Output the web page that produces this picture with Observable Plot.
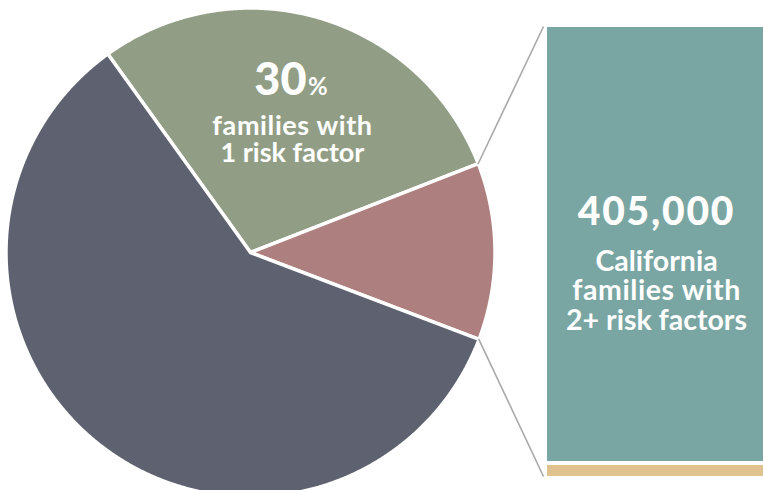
<!DOCTYPE html>
<html><head><meta charset="utf-8">
<script src="https://cdn.jsdelivr.net/npm/d3@7"></script>
<script src="https://cdn.jsdelivr.net/npm/@observablehq/plot@0.6"></script>
<style>html,body{margin:0;padding:0;background:#fff;} svg{display:block}</style>
</head><body><div id="chart"></div>
<script>
// ---- data ----
const categories = ["1 risk factor", "2+ risk factors", "No risk factors"];
const shares = [29.0, 11.7, 59.3];           // percent of families
const sliceColors = ["#919e85", "#ad7f7e", "#5e6170"];
const pctNumber = "30";
const pctSign = "%";
const sliceLines = ["families with", "1 risk factor"];
const calloutNumber = "405,000";
const calloutLines = ["California", "families with", "2+ risk factors"];

// ---- layout ----
const W = 763, H = 490;
const cx = 250, cy = 252, R = 244.5, startDeg = -35.7;
const box = {x1: 547, x2: 763, y1: 27, y2: 461};
const strip = {x1: 547, x2: 763, y1: 465, y2: 476};
const FONT = "Lato, 'Open Sans', sans-serif";

const total = d3.sum(shares);
const pt = (deg, r) => {
  const a = deg * Math.PI / 180;
  return {x: cx + r * Math.sin(a), y: cy - r * Math.cos(a)};
};

// slice polygons
const slices = [];
let acc = startDeg;
const bounds = [];
categories.forEach((c, i) => {
  const a0 = acc, a1 = acc + shares[i] / total * 360;
  bounds.push([a0, a1]);
  const pts = [{cat: c, ...pt(0, 0)}];
  const n = Math.max(2, Math.ceil((a1 - a0) / 0.25));
  for (let k = 0; k <= n; k++) pts.push({cat: c, ...pt(a0 + (a1 - a0) * k / n, R)});
  pts.push({cat: c, ...pt(0, 0)});
  slices.push(pts);
  acc = a1;
});

// connectors from the 2+ slice edges to the callout box
const [r0, r1] = bounds[1];
const pa = pt(r0, R - 1.5), pb = pt(r1, R - 1.5);
const links = [
  {x1: pa.x + 1, y1: pa.y, x2: box.x1 - 4, y2: box.y1 - 1},
  {x1: pb.x + 1, y1: pb.y, x2: box.x1 - 4, y2: strip.y2}
];

const textOpts = {fill: "white", fontWeight: "bold", fontFamily: FONT, lineAnchor: "middle"};

const chart = Plot.plot({
  width: W, height: H,
  margin: 0,
  x: {domain: [0, W], range: [0, W], axis: null},
  y: {domain: [0, H], range: [0, H], axis: null},
  marks: [
    ...slices.map((pts, i) => Plot.line(pts, {
      x: "x", y: "y", fill: sliceColors[i], stroke: "white", strokeWidth: 3.5, strokeLinejoin: "round"
    })),
    Plot.link(links, {x1: "x1", y1: "y1", x2: "x2", y2: "y2", stroke: "#a9a9a9", strokeWidth: 1.6}),
    Plot.rect([box], {x1: "x1", x2: "x2", y1: "y1", y2: "y2", fill: "#79a6a2"}),
    Plot.rect([strip], {x1: "x1", x2: "x2", y1: "y1", y2: "y2", fill: "#dfc28e"}),
    Plot.text([pctNumber], {...textOpts, x: () => 306, y: () => 80, text: d => d, fontSize: 45, fontWeight: 900, textAnchor: "end"}),
    Plot.text([pctSign], {...textOpts, x: () => 307.5, y: () => 86.5, text: d => d, fontSize: 24, textAnchor: "start"}),
    Plot.text(sliceLines, {...textOpts, x: () => 292, y: (d, i) => 126 + i * 27, text: d => d, fontSize: 27, textAnchor: "middle"}),
    Plot.text([calloutNumber], {...textOpts, x: () => 656, y: () => 212, text: d => d, fontSize: 39, fontWeight: 900, textAnchor: "middle"}),
    Plot.text(calloutLines, {...textOpts, x: () => 656, y: (d, i) => 261 + i * 29.5, text: d => d, fontSize: 28.5, textAnchor: "middle"})
  ]
});
d3.select(chart).selectAll("text").filter(function() { return this.textContent === calloutNumber; })
  .attr("letter-spacing", "1.8");
d3.select(chart).selectAll("text").filter(function() { return this.textContent === "families with"; })
  .attr("letter-spacing", "0.6");
document.getElementById("chart").append(chart);
</script>
</body></html>
